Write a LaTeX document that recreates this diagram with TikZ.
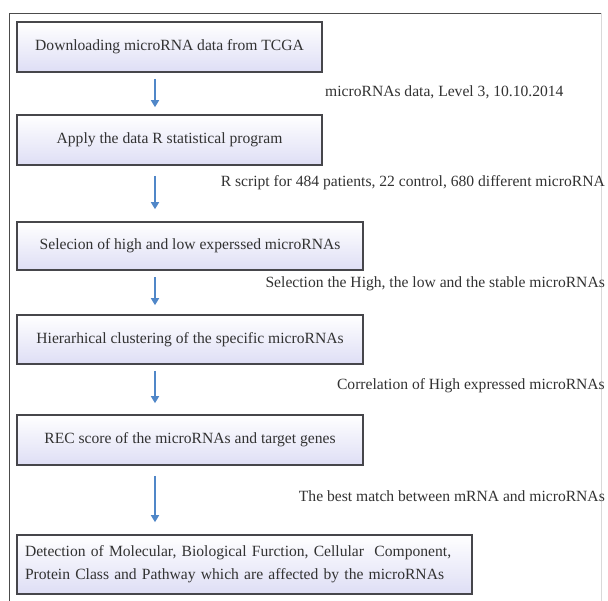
\documentclass[tikz,border=0pt]{standalone}
\usepackage{fontspec}
\setmainfont{Liberation Serif}
\usetikzlibrary{arrows.meta}
\definecolor{boxline}{RGB}{70,70,75}
\definecolor{boxfill}{RGB}{222,222,245}
\definecolor{arrblue}{RGB}{80,135,200}
\definecolor{txt}{RGB}{50,50,50}
\tikzset{
  stepbox/.style={draw=boxline, line width=1.6pt, top color=white, bottom color=boxfill,
    inner sep=0pt, text=txt, font=\fontsize{15.6}{23}\selectfont, align=center},
  flowarr/.style={draw=arrblue, line width=1.6pt, -{Triangle[width=8pt,length=7pt]}},
  note/.style={text=txt, font=\fontsize{15.6}{18}\selectfont, inner sep=0pt},
  frame/.style={draw=black!70, line width=1.5pt}
}
\begin{document}
\begin{tikzpicture}[x=1pt,y=-1pt]
\useasboundingbox (0,0) rectangle (608,601);
\draw[frame] (9.5,601) -- (9.5,13.5) -- (601,13.5);
\draw[black!15, line width=0.8pt] (601,13.5) -- (601,601);
\node[stepbox, minimum width=305pt, minimum height=50pt] (b1) at (169.5,47) {Downloading microRNA data from TCGA};
\node[stepbox, minimum width=305pt, minimum height=50pt] (b2) at (169.5,140) {Apply the data R statistical program};
\node[stepbox, minimum width=346pt, minimum height=48pt] (b3) at (190,246) {Selecion of high and low experssed microRNAs};
\node[stepbox, minimum width=346pt, minimum height=49pt] (b4) at (190,339.5) {Hierarhical clustering of the specific microRNAs};
\node[stepbox, minimum width=346pt, minimum height=50pt] (b5) at (190,440) {REC score of the microRNAs and target genes};
\node[stepbox, minimum width=455pt, minimum height=59pt, align=left, text width=439pt] (b6) at (244.5,564.5) {Detection of Molecular, Biological Furction, Cellular\ \ Component,\\Protein Class and Pathway which are affected by the microRNAs};
\coordinate (ax) at (155,0);
\draw[flowarr, shorten <=6pt, shorten >=7pt] (b1.south -| ax) -- (b2.north -| ax);
\draw[flowarr, shorten <=10pt, shorten >=12pt] (b2.south -| ax) -- (b3.north -| ax);
\draw[flowarr, shorten <=6pt, shorten >=9pt] (b3.south -| ax) -- (b4.north -| ax);
\draw[flowarr, shorten <=6pt, shorten >=11pt] (b4.south -| ax) -- (b5.north -| ax);
\draw[flowarr, shorten <=10pt, shorten >=12pt] (b5.south -| ax) -- (b6.north -| ax);
\node[note, anchor=west] (l1) at (325,92) {microRNAs data, Level 3, 10.10.2014};
\node[note, anchor=east] (l2) at (605,183) {R script for 484 patients, 22 control, 680 different microRNA};
\node[note, anchor=east] (l3) at (605,284) {Selection the High, the low and the stable microRNAs};
\node[note, anchor=east] (l4) at (605,386) {Correlation of High expressed microRNAs};
\node[note, anchor=east] (l5) at (605,496) {The best match between mRNA and microRNAs};
\end{tikzpicture}
\end{document}
